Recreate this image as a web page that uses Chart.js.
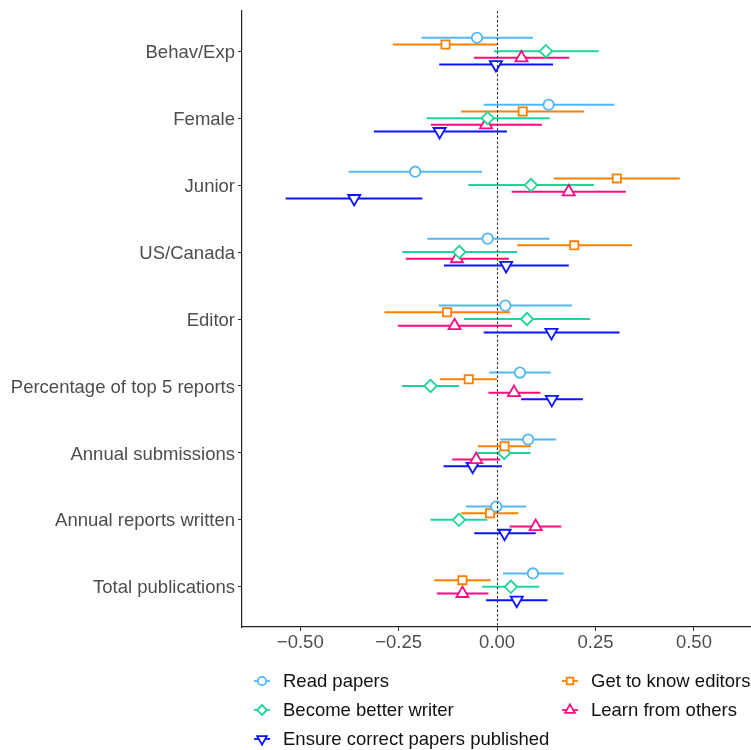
<!DOCTYPE html>
<html>
<head>
<meta charset="utf-8">
<script src="https://cdn.jsdelivr.net/npm/chart.js@4"></script>
<style>
  html, body { margin: 0; padding: 0; background: #ffffff; }
  #wrap { width: 751px; height: 750px; }
</style>
</head>
<body>
<div id="wrap"><canvas id="c" width="751" height="750"></canvas></div>
<script>
// ---- Data ----
const categories = ['Behav/Exp', 'Female', 'Junior', 'US/Canada', 'Editor',
  'Percentage of top 5 reports', 'Annual submissions', 'Annual reports written', 'Total publications'];
const seriesNames = ['Read papers', 'Get to know editors', 'Become better writer',
  'Learn from others', 'Ensure correct papers published'];
const xTickValues = [-0.5, -0.25, 0, 0.25, 0.5];

const readEst = [-0.051, 0.131, -0.208, -0.024, 0.021, 0.058, 0.079, -0.002, 0.091];
const readLo  = [-0.192, -0.034, -0.377, -0.177, -0.148, -0.020, 0.008, -0.079, 0.015];
const readHi  = [0.091, 0.298, -0.038, 0.133, 0.190, 0.136, 0.150, 0.074, 0.169];

const knowEst = [-0.131, 0.065, 0.304, 0.196, -0.127, -0.072, 0.019, -0.018, -0.088];
const knowLo  = [-0.265, -0.091, 0.144, 0.051, -0.286, -0.145, -0.049, -0.091, -0.160];
const knowHi  = [0.000, 0.221, 0.464, 0.343, 0.033, 0.000, 0.086, 0.054, -0.016];

const writerEst = [0.124, -0.024, 0.086, -0.096, 0.076, -0.169, 0.018, -0.097, 0.035];
const writerLo  = [-0.008, -0.179, -0.073, -0.241, -0.084, -0.242, -0.050, -0.169, -0.038];
const writerHi  = [0.258, 0.134, 0.246, 0.051, 0.236, -0.096, 0.085, -0.025, 0.107];

const learnEst = [0.062, -0.028, 0.182, -0.102, -0.108, 0.043, -0.053, 0.098, -0.088];
const learnLo  = [-0.059, -0.168, 0.037, -0.232, -0.252, -0.022, -0.114, 0.032, -0.153];
const learnHi  = [0.183, 0.114, 0.327, 0.030, 0.038, 0.110, 0.008, 0.163, -0.022];

const ensureEst = [-0.003, -0.146, -0.363, 0.023, 0.138, 0.139, -0.062, 0.019, 0.050];
const ensureLo  = [-0.147, -0.313, -0.537, -0.135, -0.034, 0.061, -0.136, -0.058, -0.028];
const ensureHi  = [0.142, 0.025, -0.190, 0.182, 0.311, 0.218, 0.012, 0.098, 0.128];

// ---- Styles ----
const estimates = [readEst, knowEst, writerEst, learnEst, ensureEst];
const lows = [readLo, knowLo, writerLo, learnLo, ensureLo];
const highs = [readHi, knowHi, writerHi, learnHi, ensureHi];
const colors = ['#52B7F4', '#FF8000', '#1ED496', '#FF0A83', '#0A14FF'];
const shapes = ['circle', 'rect', 'rectRot', 'triangle', 'triangle'];
const rotations = [0, 0, 0, 0, 180];
const radii = [5.2, 5.8, 6.2, 7, 7];
const FONT = '"Liberation Sans", Arial, "DejaVu Sans", sans-serif';
const FONT_SIZE = 18.5;

function dodge(i) { return (i - 2) * 0.1; }

const datasets = seriesNames.map((name, i) => ({
  label: name,
  data: estimates[i].map((v, j) => ({ x: v, y: j + 1 + dodge(i) })),
  lows: lows[i],
  highs: highs[i],
  borderColor: colors[i],
  backgroundColor: '#ffffff',
  pointStyle: shapes[i],
  pointRotation: rotations[i],
  pointRadius: radii[i],
  pointHoverRadius: radii[i],
  pointBorderWidth: 1.8,
  showLine: false
}));

const errorBars = {
  id: 'errorBars',
  beforeDatasetsDraw(chart) {
    const ctx = chart.ctx, xs = chart.scales.x, ys = chart.scales.y;
    ctx.save();
    chart.data.datasets.forEach((ds, i) => {
      ctx.strokeStyle = ds.borderColor;
      ctx.lineWidth = 2;
      ctx.lineCap = 'butt';
      ds.data.forEach((p, j) => {
        const y = ys.getPixelForValue(p.y);
        ctx.beginPath();
        ctx.moveTo(xs.getPixelForValue(ds.lows[j]), y);
        ctx.lineTo(xs.getPixelForValue(ds.highs[j]), y);
        ctx.stroke();
      });
    });
    ctx.restore();
  },
  afterDatasetsDraw(chart) {
    const ctx = chart.ctx, xs = chart.scales.x, area = chart.chartArea;
    const x0 = Math.round(xs.getPixelForValue(0)) + 0.5;
    ctx.save();
    ctx.strokeStyle = '#333333';
    ctx.lineWidth = 1.1;
    ctx.setLineDash([2.5, 2]);
    ctx.beginPath();
    ctx.moveTo(x0, area.top);
    ctx.lineTo(x0, area.bottom);
    ctx.stroke();
    ctx.restore();
  }
};

const customLegend = {
  id: 'customLegend',
  afterDraw(chart) {
    const ctx = chart.ctx;
    const colX = [262, 570];
    const rowY = [681, 710, 739];
    ctx.save();
    chart.data.datasets.forEach((ds, i) => {
      const cx = colX[i % 2], cy = rowY[Math.floor(i / 2)];
      ctx.strokeStyle = ds.borderColor;
      ctx.lineWidth = 1.8;
      ctx.beginPath();
      ctx.moveTo(cx - 8, cy);
      ctx.lineTo(cx + 8, cy);
      ctx.stroke();
      ctx.fillStyle = '#ffffff';
      Chart.helpers.drawPoint(ctx, {
        pointStyle: ds.pointStyle,
        rotation: ds.pointRotation,
        radius: ds.pointRadius * 0.8,
        borderWidth: 1.8
      }, cx, cy);
      ctx.fillStyle = '#111111';
      ctx.font = FONT_SIZE + 'px ' + FONT;
      ctx.textBaseline = 'middle';
      ctx.textAlign = 'left';
      ctx.fillText(ds.label, cx + 21, cy + 1);
    });
    ctx.restore();
  }
};

function noPad(scale) {
  scale.paddingLeft = 0; scale.paddingRight = 0;
  scale.paddingTop = 0; scale.paddingBottom = 0;
}

new Chart(document.getElementById('c'), {
  type: 'scatter',
  data: { datasets },
  plugins: [errorBars, customLegend],
  options: {
    responsive: false,
    animation: false,
    events: [],
    layout: { autoPadding: false, padding: { top: 11, right: 0, left: 0, bottom: 0 } },
    plugins: { legend: { display: false }, tooltip: { enabled: false } },
    scales: {
      x: {
        type: 'linear',
        min: -0.648,
        max: 0.645,
        afterFit(scale) { scale.height = 123; noPad(scale); },
        afterBuildTicks(scale) { scale.ticks = xTickValues.map(v => ({ value: v })); },
        grid: { display: true, drawOnChartArea: false, drawTicks: true, tickLength: 4, tickColor: '#333333', tickWidth: 1 },
        border: { display: true, color: '#222222', width: 1.2 },
        ticks: {
          padding: 1,
          color: '#4D4D4D',
          font: { size: FONT_SIZE, family: FONT },
          maxRotation: 0,
          callback(v) { return (v < 0 ? '\u2212' : '') + Math.abs(v).toFixed(2); }
        }
      },
      y: {
        type: 'linear',
        min: 0.4,
        max: 9.6,
        reverse: true,
        afterFit(scale) { scale.width = 242; noPad(scale); },
        afterBuildTicks(scale) { scale.ticks = categories.map((c, j) => ({ value: j + 1 })); },
        grid: { display: true, drawOnChartArea: false, drawTicks: true, tickLength: 4, tickColor: '#333333', tickWidth: 1 },
        border: { display: true, color: '#222222', width: 1.2 },
        ticks: {
          padding: 3,
          labelOffset: 1.5,
          color: '#4D4D4D',
          font: { size: FONT_SIZE, family: FONT },
          callback(v) { return categories[Math.round(v) - 1]; }
        }
      }
    }
  }
});
</script>
</body>
</html>
